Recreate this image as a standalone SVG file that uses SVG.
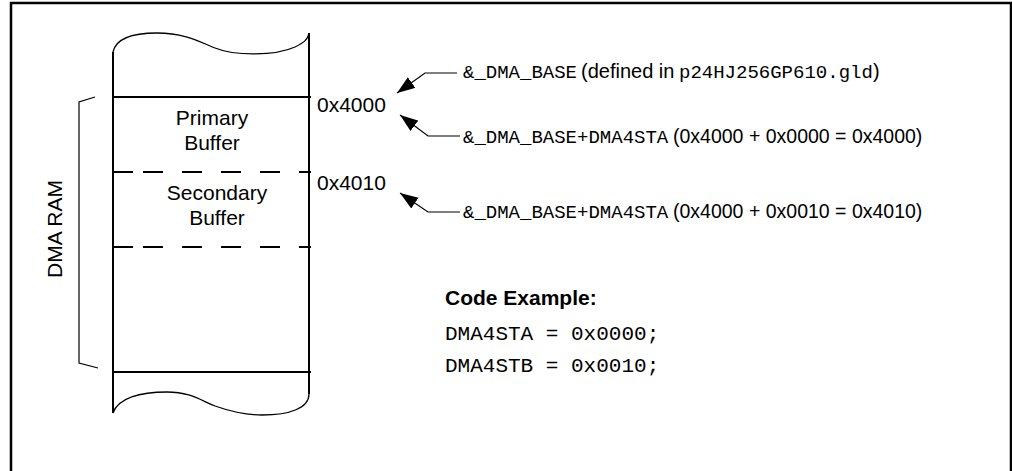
<svg xmlns="http://www.w3.org/2000/svg" width="1012" height="471" viewBox="0 0 1012 471">
<style>
.sans{font-family:"Liberation Sans",Arial,sans-serif;fill:#000}
.mono{font-family:"Liberation Mono","Courier New",monospace;fill:#000}
.thick{stroke:#000;stroke-width:2;fill:none}
.thin{stroke:#000;stroke-width:1.3;fill:none}
.conn{stroke:#000;stroke-width:1.2;fill:none}
</style>
<defs>
<marker id="ah" markerUnits="userSpaceOnUse" markerWidth="20" markerHeight="14" refX="18" refY="6.5" orient="auto">
<path d="M0,0 L18,6.5 L0,13 z" fill="#000"/>
</marker>
</defs>
<rect width="1012" height="471" fill="#fff"/>
<path d="M11,471 V3 H1011 V471" stroke="#000" stroke-width="2.5" fill="none"/>
<g id="memory">
<path class="thick" d="M113,52 V413"/>
<path class="thick" d="M309,33 V394"/>
<path class="thin" d="M113,52 C116,38 135,33 157,33 C185,33 200,42 215,48 C235,56 275,56 295,47 C303,43 308,40 309,33"/>
<path class="thin" d="M113,413 C118,398 140,392 167,392 C190,392 200,400 215,406 C235,413 250,415 262,415 C290,415 309,408 309,394"/>
<path class="thick" d="M113,97 H311"/>
<path class="thick" d="M113,372 H311"/>
</g>
<g id="primary">
<text class="sans" x="212" y="125" font-size="21" text-anchor="middle">Primary</text>
<text class="sans" x="212" y="150" font-size="21" text-anchor="middle">Buffer</text>
<path class="thick" d="M113,172 H133"/>
<path class="thick" d="M143,172 H311" stroke-dasharray="20 19"/>
</g>
<g id="secondary">
<text class="sans" x="217" y="200" font-size="21" text-anchor="middle">Secondary</text>
<text class="sans" x="217" y="225" font-size="21" text-anchor="middle">Buffer</text>
<path class="thick" d="M113,247 H133"/>
<path class="thick" d="M143,247 H311" stroke-dasharray="20 19"/>
</g>
<g id="dma-ram">
<path class="conn" d="M95,97 L79,102 V363 L98,368"/>
<text class="sans" x="0" y="0" font-size="21" text-anchor="middle" transform="translate(62,229) rotate(-90)">DMA RAM</text>
</g>
<g id="addresses">
<text class="sans" x="317" y="112" font-size="21">0x4000</text>
<text class="sans" x="317" y="190" font-size="21">0x4010</text>
</g>
<g id="connectors">
<path class="conn" d="M457,73 H425 L397,93" marker-end="url(#ah)"/>
<path class="conn" d="M460,136 H428 L400,115" marker-end="url(#ah)"/>
<path class="conn" d="M460,212 H428 L400,193" marker-end="url(#ah)"/>
</g>
<g id="label1">
<text y="78"><tspan class="mono" x="463" font-size="19">&amp;_DMA_BASE</tspan><tspan class="sans" x="581" font-size="20">(defined in</tspan><tspan class="mono" x="679" font-size="19">p24HJ256GP610.gld</tspan><tspan class="sans" x="873" font-size="20">)</tspan></text>
</g>
<g id="label2">
<text y="143"><tspan class="mono" x="463" font-size="19">&amp;_DMA_BASE+DMA4STA</tspan><tspan class="sans" x="673" font-size="19.5">(0x4000 + 0x0000 = 0x4000)</tspan></text>
</g>
<g id="label3">
<text y="218"><tspan class="mono" x="463" font-size="19">&amp;_DMA_BASE+DMA4STA</tspan><tspan class="sans" x="673" font-size="19.5">(0x4000 + 0x0010 = 0x4010)</tspan></text>
</g>
<g id="code">
<text class="sans" x="445" y="305" font-size="21" font-weight="bold">Code Example:</text>
<text class="mono" x="445" y="340" font-size="21" xml:space="preserve">DMA4STA = 0x0000;</text>
<text class="mono" x="445" y="372" font-size="21" xml:space="preserve">DMA4STB = 0x0010;</text>
</g>
</svg>
